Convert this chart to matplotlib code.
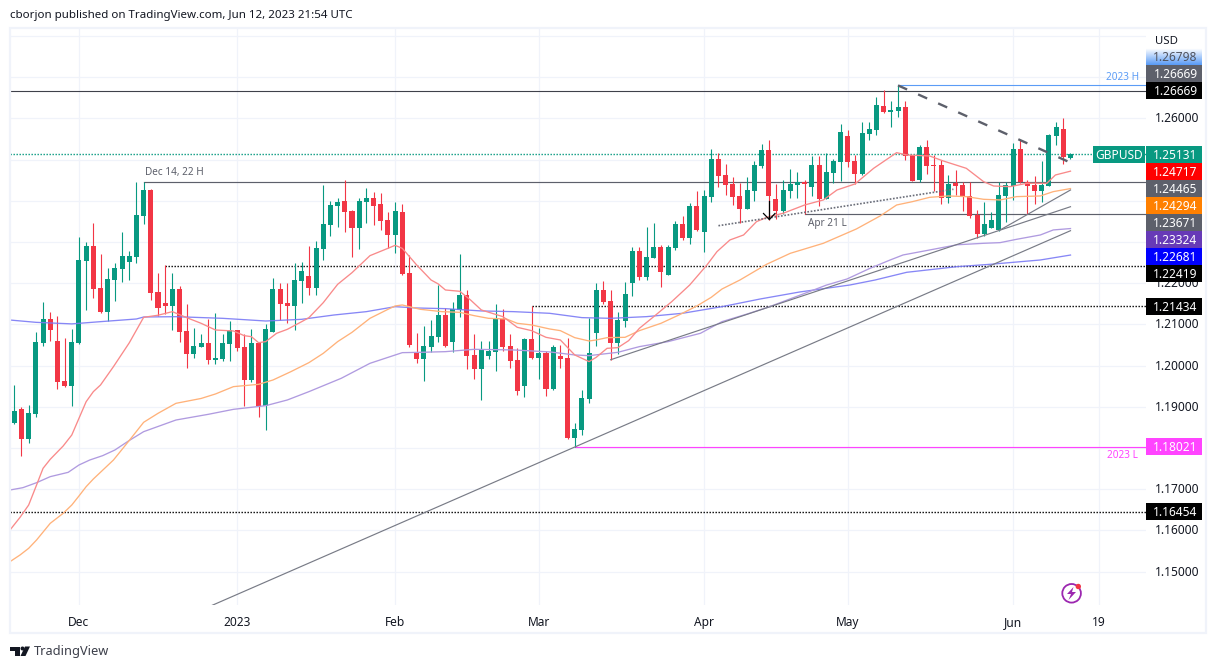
import matplotlib
matplotlib.use("Agg")
import matplotlib.pyplot as plt
from matplotlib.patches import Rectangle, Polygon, Circle
from matplotlib.transforms import ScaledTranslation
import numpy as np

plt.rcParams['font.family'] = ['Noto Sans', 'DejaVu Sans']

# ---------- candle data (GBPUSD daily) ----------
opens = [1.18604,1.18944,1.18216,1.18823,1.20546,1.21128,1.20595,1.19624,1.19502,1.20546,
 1.22536,1.22900,1.21881,1.21299,1.22075,1.22342,1.22512,1.22634,1.23629,1.24260,
 1.21784,1.21517,1.21444,1.21857,1.20838,1.20279,1.20449,1.20546,1.20134,1.20158,
 1.20522,1.20862,1.20449,1.19648,1.20546,1.19017,1.20813,1.21857,1.21517,1.21444,
 1.22051,1.22172,1.21881,1.22828,1.23410,1.23871,1.23993,1.23750,1.23337,1.23968,
 1.24065,1.23920,1.23531,1.23167,1.23720,1.22246,1.20304,1.20158,1.20450,1.20692,
 1.21226,1.20571,1.21348,1.21712,1.20256,1.19916,1.20231,1.20328,1.21129,1.20474,
 1.20134,1.19503,1.20644,1.20183,1.20304,1.19430,1.20231,1.20183,1.18241,1.18435,
 1.19188,1.20789,1.21833,1.21566,1.20547,1.21081,1.22003,1.22780,1.22149,1.22610,
 1.22877,1.22197,1.22852,1.23435,1.23095,1.23871,1.23240,1.24090,1.25012,1.24624,
 1.24405,1.24114,1.23799,1.24236,1.24842,1.25231,1.24041,1.23750,1.24236,1.24382,
 1.24454,1.24333,1.24867,1.24042,1.24673,1.24940,1.25571,1.24964,1.24649,1.25619,
 1.25716,1.26299,1.26153,1.26178,1.26275,1.25110,1.24503,1.25304,1.24867,1.24867,
 1.24066,1.24430,1.24382,1.24115,1.23654,1.23192,1.23338,1.23289,1.24115,1.24357,
 1.25255,1.24454,1.24382,1.24236,1.24357,1.25571,1.25741,1.25037]
highs = [1.19527,1.18993,1.19041,1.20813,1.21541,1.21298,1.21201,1.20667,1.20886,1.23119,
 1.22998,1.23459,1.22706,1.22367,1.22488,1.23240,1.22779,1.24454,1.24465,1.24284,
 1.22245,1.22439,1.22245,1.21930,1.21493,1.20910,1.20765,1.21129,1.21274,1.20765,
 1.21080,1.20862,1.20765,1.20886,1.20546,1.21007,1.22124,1.22002,1.22002,1.22488,
 1.22512,1.22900,1.23022,1.24381,1.24000,1.24065,1.24502,1.23774,1.24065,1.24308,
 1.24211,1.24187,1.23726,1.23968,1.23910,1.22683,1.20789,1.20959,1.21105,1.21954,
 1.21396,1.21542,1.22707,1.21833,1.20765,1.20595,1.20595,1.21493,1.21372,1.20765,
 1.20425,1.20668,1.21445,1.20911,1.20353,1.20498,1.20498,1.20668,1.18605,1.19406,
 1.21145,1.22003,1.22051,1.21833,1.21299,1.22027,1.22877,1.22877,1.23362,1.23459,
 1.22925,1.22925,1.23507,1.23629,1.23944,1.24236,1.24260,1.25255,1.25158,1.24891,
 1.24575,1.24430,1.24575,1.24964,1.25376,1.25473,1.24405,1.24502,1.24770,1.24697,
 1.24503,1.25085,1.25085,1.25158,1.25013,1.25862,1.25716,1.25110,1.25911,1.25911,
 1.26517,1.26687,1.26420,1.26798,1.26420,1.25110,1.25352,1.25474,1.25110,1.24988,
 1.24624,1.24746,1.24454,1.24454,1.23775,1.23969,1.23726,1.24454,1.24454,1.25401,
 1.25474,1.24503,1.24600,1.24964,1.25619,1.25911,1.26008,1.25158]
lows = [1.18580,1.17803,1.18119,1.18750,1.20473,1.20595,1.19430,1.19478,1.19017,1.20522,
 1.21347,1.21638,1.21274,1.21080,1.21566,1.22027,1.22075,1.22488,1.23434,1.21590,
 1.21202,1.21250,1.20862,1.20571,1.19940,1.20182,1.20449,1.20037,1.20037,1.20109,
 1.20109,1.20352,1.19017,1.19600,1.18750,1.18435,1.20813,1.21105,1.21032,1.20862,
 1.21517,1.21711,1.21711,1.22561,1.23143,1.23362,1.23240,1.22634,1.22828,1.23459,
 1.23410,1.23289,1.22852,1.22731,1.22200,1.20450,1.20061,1.19625,1.20328,1.20571,
 1.20450,1.20328,1.21178,1.19916,1.19673,1.19163,1.20158,1.19867,1.20353,1.19940,
 1.19285,1.19236,1.20160,1.19673,1.19260,1.19406,1.19940,1.18225,1.18021,1.18314,
 1.19091,1.20474,1.21490,1.20134,1.20280,1.20935,1.21687,1.22076,1.22076,1.22610,
 1.21906,1.22190,1.22804,1.23046,1.22949,1.23265,1.22755,1.23969,1.24333,1.24138,
 1.23896,1.23459,1.23799,1.23993,1.24794,1.23532,1.23556,1.23677,1.24066,1.24066,
 1.23678,1.24120,1.23872,1.24042,1.24430,1.24479,1.24819,1.24406,1.24625,1.25474,
 1.25595,1.26130,1.25789,1.26032,1.24988,1.24479,1.24454,1.24649,1.24236,1.23921,
 1.23945,1.24139,1.23751,1.23580,1.23095,1.23144,1.23338,1.23273,1.23484,1.24018,
 1.24430,1.23678,1.23921,1.23969,1.24357,1.25352,1.24891,1.25020]
closes = [1.18896,1.18216,1.18847,1.20570,1.21128,1.20861,1.19599,1.19502,1.20570,1.22561,
 1.22900,1.21857,1.21299,1.22100,1.22367,1.22658,1.22658,1.23653,1.24260,1.21760,
 1.21396,1.21444,1.21857,1.20813,1.20279,1.20473,1.20546,1.20134,1.20182,1.20546,
 1.20862,1.20425,1.19648,1.20546,1.19017,1.20886,1.21857,1.21493,1.21444,1.22075,
 1.22294,1.21881,1.22852,1.23434,1.23896,1.23968,1.23726,1.23337,1.23993,1.24065,
 1.23871,1.23507,1.23167,1.23750,1.22221,1.20498,1.20158,1.20474,1.20717,1.21226,
 1.20474,1.21372,1.21712,1.20231,1.19916,1.20401,1.20353,1.21129,1.20450,1.20110,
 1.19382,1.20644,1.20183,1.20304,1.19430,1.20450,1.20158,1.18241,1.18460,1.19212,
 1.20304,1.21833,1.21542,1.20547,1.21105,1.21736,1.22780,1.22149,1.22634,1.22877,
 1.22270,1.22877,1.23435,1.23095,1.23871,1.23289,1.24114,1.25012,1.24600,1.24381,
 1.24090,1.23799,1.24260,1.24867,1.25231,1.24114,1.23750,1.24260,1.24406,1.24454,
 1.24406,1.24867,1.24042,1.24697,1.24964,1.25668,1.24940,1.24649,1.25644,1.25741,
 1.26323,1.26153,1.26202,1.26275,1.25085,1.24479,1.25304,1.24843,1.24843,1.24066,
 1.24406,1.24357,1.24090,1.23629,1.23192,1.23435,1.23532,1.24139,1.24382,1.25255,
 1.24454,1.24357,1.24236,1.24382,1.25595,1.25789,1.25061,1.25131]

# ---------- moving averages, read at selected bars ----------
ema21_idx = [-0.6,0.8,2,3.1,4,5,6.8,8,9,10,11,12,13.8,16,18,20,22,24,26,28,30.5,32,33,34,35,36.5,38,40,41,43,45,47,49.5,52,53,54,56,58,59,60,62,63.5,65,68,70,72,74,76,78,80,81,82.5,84,85.5,87,89,91.5,94,96.4,97.8,99.6,101.5,103.3,105,107,110,112.6,114.5,117,119.6,122.8,124.2,127.4,129.3,132.5,134.9,136.3,138.6,140.9,143.7,144.9,147]
ema21_val = [1.16007,1.16315,1.16614,1.17100,1.17504,1.17723,1.18046,1.18313,1.18718,1.19122,1.19365,1.19527,1.19972,1.20550,1.21169,1.21220,1.21307,1.21161,1.21024,1.20862,1.20838,1.20724,1.20700,1.20554,1.20580,1.20781,1.20878,1.21064,1.21161,1.21525,1.21970,1.22253,1.22666,1.22844,1.22917,1.22844,1.22440,1.22076,1.21980,1.21833,1.21801,1.21590,1.21348,1.21186,1.20927,1.20846,1.20684,1.20620,1.20256,1.20094,1.20200,1.20417,1.20433,1.20603,1.20903,1.21186,1.21550,1.21954,1.22440,1.22764,1.23047,1.23168,1.23492,1.23613,1.23694,1.23896,1.24018,1.24260,1.24406,1.24786,1.25166,1.25110,1.25085,1.24964,1.24786,1.24463,1.24357,1.24341,1.24422,1.24422,1.24624,1.24717]
ema50_idx = [-0.6,0.8,2,3.1,5,6.8,8,9,10,11,13.8,16,18,20,22.5,26,28,30.5,34,36,38.5,41,43,45,47,49.5,52,53,54,56.5,59.5,62,64,66,68.5,70,72,74.5,76,78,80,81,82.5,85,87,90,92.5,95,97,98.5,101,104.7,108,112.6,117.2,120.5,122.8,125,127.4,130,132.5,134.9,137.2,139.5,142.8,144.6,147]
ema50_val = [1.15239,1.15401,1.15563,1.15765,1.16169,1.16412,1.16614,1.16833,1.17059,1.17245,1.17706,1.18180,1.18621,1.18839,1.19082,1.19200,1.19309,1.19487,1.19543,1.19648,1.19851,1.20069,1.20295,1.20579,1.20805,1.21145,1.21363,1.21445,1.21469,1.21364,1.21307,1.21291,1.21210,1.21145,1.21129,1.21024,1.20984,1.20887,1.20846,1.20676,1.20595,1.20620,1.20676,1.20684,1.20846,1.21024,1.21226,1.21445,1.21655,1.21857,1.22076,1.22456,1.22723,1.22966,1.23314,1.23629,1.23896,1.23977,1.24082,1.24115,1.24099,1.24034,1.24018,1.24099,1.24115,1.24220,1.24294]
ema100_idx = [-0.6,1.2,3.1,5,7.5,9,10.5,12.3,14,16,18,22.5,27,30.5,35,38,41,45.5,49.5,54,56.5,60,64,69.5,74.5,78,80,84,87,91,95.5,98.5,102,105,110,113,115.9,119.1,121.9,123.7,127.4,131.2,134.9,137.2,139.5,142.8,144.6,147]
ema100_val = [1.16978,1.17035,1.17156,1.17302,1.17407,1.17585,1.17706,1.17812,1.17949,1.18180,1.18394,1.18677,1.18815,1.18936,1.19025,1.19163,1.19365,1.19689,1.20053,1.20312,1.20320,1.20336,1.20393,1.20377,1.20330,1.20256,1.20239,1.20320,1.20458,1.20580,1.20782,1.21065,1.21250,1.21420,1.21750,1.21950,1.22100,1.22359,1.22561,1.22683,1.22804,1.22930,1.22966,1.22982,1.23063,1.23168,1.23290,1.23324]
ema200_idx = [-0.6,3,8,12,17,18,22.5,29,30.5,35,40,44.5,49,53,56,60,65,69.5,74.5,79,83,88,93,98.5,103.8,109.3,116.3,119.8,124.2,131.2,135.8,142.8,147]
ema200_val = [1.21104,1.21048,1.21010,1.21064,1.21129,1.21177,1.21185,1.21145,1.21129,1.21080,1.21121,1.21226,1.21307,1.21428,1.21396,1.21380,1.21324,1.21307,1.21267,1.21162,1.21145,1.21186,1.21267,1.21428,1.21614,1.21784,1.21954,1.22075,1.22262,1.22399,1.22456,1.22561,1.22681]

# ---------- drawn levels and trend lines ----------
level_2023h = 1.26798
level_ath = 1.26669
level_dec14 = 1.24465
level_apr21 = 1.23671
level_dot1 = 1.22419
level_dot2 = 1.21434
level_2023l = 1.18021
level_dot3 = 1.16454
last_price = 1.25131
trend_long_idx = [26.0, 78, 147]
trend_long_val = [1.14062, 1.18021, 1.23272]
trend_a_idx = [83, 147]
trend_a_val = [1.20140, 1.23854]
trend_b_idx = [137.2, 147]
trend_b_val = [1.23289, 1.24260]
trend_dash_idx = [123, 146.7]
trend_dash_val = [1.26798, 1.24947]
trend_dot_idx = [98, 130.7]
trend_dot_val = [1.23393, 1.24277]

month_ticks = [9, 31, 53, 73, 96, 116, 139, 151]
month_labels = ['Dec', '2023', 'Feb', 'Mar', 'Apr', 'May', 'Jun', '19']
price_ticks = [1.15,1.16,1.17,1.19,1.20,1.21,1.22,1.26]
grid_prices = [1.15,1.16,1.17,1.18,1.19,1.20,1.21,1.22,1.23,1.24,1.25,1.26,1.27,1.28]

GREEN, RED = '#089981', '#f23645'
GRAY = '#5d606b'
TXT = '#131722'
GRID = '#f0f3fa'

W, H = 1216, 669
fig = plt.figure(figsize=(W/100, H/100), dpi=100, facecolor='white')
L, R, T, B = 10, 1146, 28, 605
ax = fig.add_axes([L/W, 1-B/H, (R-L)/W, (B-T)/H], facecolor='white')
ax.set_xlim((L-14.3)/7.185, (R-14.3)/7.185)
ax.set_ylim(1.26-(B-118.3)/4120, 1.26-(T-118.3)/4120)
for s in ax.spines.values():
    s.set_visible(False)

for p in grid_prices:
    ax.axhline(p, color=GRID, lw=0.9, zorder=0)
for t in month_ticks:
    ax.axvline(t, color=GRID, lw=0.9, zorder=0)

ax.set_xticks(month_ticks)
ax.set_xticklabels(month_labels, fontsize=8.6, color=TXT)
ax.get_xticklabels()[1].set_fontweight('semibold')
ax.tick_params(axis='x', length=0, pad=8)
ax.yaxis.tick_right()
ax.set_yticks(price_ticks)
ax.set_yticklabels([f'{p:.5f}' for p in price_ticks], fontsize=8.6, color=TXT)
ax.tick_params(axis='y', length=0, pad=6.5)
up = ScaledTranslation(0, 1/100, fig.dpi_scale_trans)
for lab in ax.get_yticklabels():
    lab.set_transform(lab.get_transform() + up)

idx = np.arange(len(closes))
o, h, l, c = map(np.array, (opens, highs, lows, closes))
cols = np.where(c >= o, GREEN, RED)
ax.vlines(idx, l, h, colors=cols, lw=0.8, zorder=3)
ax.bar(idx, np.abs(c-o), bottom=np.minimum(o, c), width=0.7, color=cols, lw=0, zorder=3.1)

ax.plot(ema200_idx, ema200_val, color='#7a7af5', lw=0.95, zorder=4, alpha=.9)
ax.plot(ema100_idx, ema100_val, color='#b09be0', lw=0.95, zorder=4)
ax.plot(ema50_idx, ema50_val, color='#ffb27a', lw=0.95, zorder=4)
ax.plot(ema21_idx, ema21_val, color='#f98a8a', lw=0.95, zorder=4)

xr = ax.get_xlim()[1]
ax.plot([-1, xr], [level_ath]*2, color='#3f414a', lw=0.8, zorder=2.5)
ax.plot([18, xr], [level_dec14]*2, color=GRAY, lw=0.85, zorder=2.5)
ax.plot([110, xr], [level_apr21]*2, color=GRAY, lw=0.85, zorder=2.5)
ax.plot([123, xr], [level_2023h]*2, color='#5b9cf6', lw=0.8, zorder=2.5)
ax.plot([78, xr], [level_2023l]*2, color='#ff44ff', lw=0.85, zorder=2.5)
dotted = (0, (1, 1.16))
for start, lev in ((21, level_dot1), (72, level_dot2), (-1, level_dot3)):
    ax.plot([start, xr], [lev]*2, color='black', lw=1.0, ls=dotted, zorder=2.5)
ax.plot([-1, xr], [last_price]*2, color=GREEN, lw=1.0, ls=dotted, zorder=2.5)

ax.plot(trend_long_idx, trend_long_val, color='#787b86', lw=0.85, zorder=4.5)
ax.plot(trend_a_idx, trend_a_val, color='#787b86', lw=0.85, zorder=4.5)
ax.plot(trend_b_idx, trend_b_val, color='#787b86', lw=0.85, zorder=4.5)
ax.plot(trend_dash_idx, trend_dash_val, color='#5d606b', lw=1.7, ls=(0, (4.2, 5.1)), zorder=4.5)
ax.plot(trend_dot_idx, trend_dot_val, color='#6a6d78', lw=1.2, ls=(0, (1, 1.0)), zorder=4.5)

# ---------- overlay in pixel units: frame, price labels, captions ----------
ov = fig.add_axes([0, 0, 1, 1], facecolor='none')
ov.set_xlim(0, W); ov.set_ylim(H, 0); ov.axis('off')
ov.add_patch(Rectangle((10, 27.5), 1196, 605.5, fill=False, ec=GRID, lw=1.6))

grad = np.ones((20, 1, 3))
blue = np.array([0x5b, 0x9c, 0xf6])/255
for k in range(20):
    grad[k, 0] = 1 + (blue-1)*(k/19)
ov.imshow(grad, extent=(1146, 1202, 65, 48), aspect='auto', zorder=5)
ov.set_xlim(0, W); ov.set_ylim(H, 0)

box_tops = [65, 82, 146, 163, 180, 197, 214, 231, 248, 265, 298, 438, 503]
box_vals = [level_ath, level_ath, last_price, 1.24717, level_dec14, 1.24294, level_apr21, 1.23324, 1.22681, level_dot1, level_dot2, level_2023l, level_dot3]
box_cols = [GRAY, '#000000', GREEN, '#ff0000', GRAY, '#ff8000', GRAY, '#673ab7', '#0000ff', '#000000', '#000000', '#ff44ff', '#000000']
LX = 1175.5
ov.text(LX, 57.3, f'{level_2023h:.5f}', color='#50535e', fontsize=8.6, ha='center', va='center', zorder=7)
for top, v, col in zip(box_tops, box_vals, box_cols):
    ov.add_patch(Rectangle((1146, top), 56, 17, fc=col, ec='none', zorder=5))
    ov.text(LX, top+9.2, f'{v:.5f}', color='white', fontsize=8.6, ha='center', va='center', zorder=7)
ov.add_patch(Rectangle((1093, 146), 52, 17, fc=GREEN, ec='none', zorder=5))
ov.text(1119, 155.2, 'GBPUSD', color='white', fontsize=8.6, ha='center', va='center', zorder=7)
ov.text(1167, 41.5, 'USD', color=TXT, fontsize=8.2, ha='center', va='center')

ov.text(10, 15.8, 'cborjon published on TradingView.com, Jun 12, 2023 21:54 UTC', color=TXT, fontsize=8.3, ha='left', va='center')
ov.text(145, 173, 'Dec 14, 22 H', color=GRAY, fontsize=7.2, ha='left', va='center')
ov.text(808, 223.5, 'Apr 21 L', color=GRAY, fontsize=7.2, ha='left', va='center')
ov.text(1106, 77, '2023 H', color='#5b9cf6', fontsize=7.2, ha='left', va='center')
ov.text(1107, 456, '2023 L', color='#ff44ff', fontsize=7.2, ha='left', va='center')

# arrow on the April swing low
ov.plot([769.3, 769.3], [200.5, 219], color='black', lw=0.9, zorder=6)
ov.plot([763.5, 769.3, 775], [213.5, 219.5, 213.5], color='black', lw=0.9, zorder=6)

# TradingView logo
ov.add_patch(Polygon([(10, 646.5), (20, 646.5), (20, 656), (15, 656), (15, 650.5), (10, 650.5)], fc='#131722', ec='none'))
ov.add_patch(Circle((22.5, 648.5), 2, fc='#131722', ec='none'))
ov.add_patch(Polygon([(25, 646.5), (30, 646.5), (25.5, 656), (20.5, 656)], fc='#131722', ec='none'))
ov.text(33.5, 651.5, 'TradingView', color='#3c3f4a', fontsize=9.2, ha='left', va='center')

# flash icon
ov.add_patch(Circle((1071.6, 593.3), 9.3, fc='white', ec='#9c27b0', lw=1.3, zorder=6))
ov.add_patch(Polygon([(1073.5, 587), (1067, 594), (1071, 594), (1068.5, 600), (1076, 592), (1072, 592)], fc='#9c27b0', ec='none', zorder=7))
ov.add_patch(Circle((1078.3, 586.5), 2.7, fc='#f23645', ec='none', zorder=8))

fig.savefig('out.png', dpi=100)
